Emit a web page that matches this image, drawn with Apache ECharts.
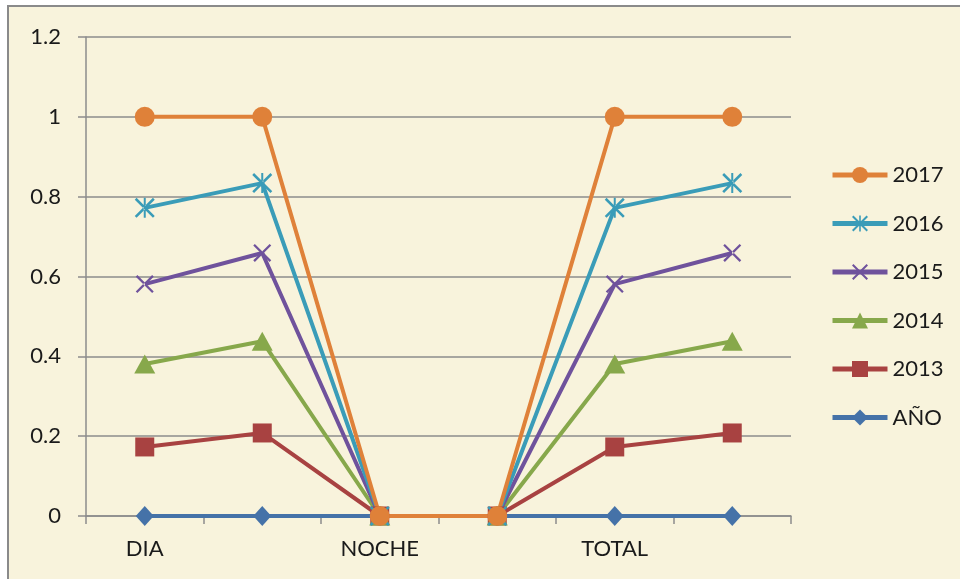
<!DOCTYPE html>
<html>
<head>
<meta charset="utf-8">
<script src="https://cdn.jsdelivr.net/npm/echarts@6/dist/echarts.min.js"></script>
<style>
html,body{margin:0;padding:0;background:#ffffff;}
#chart{width:960px;height:579px;}
</style>
</head>
<body>
<div id="chart"></div>
<script>
const categories = ['DIA', '', 'NOCHE', '', 'TOTAL', ''];
const seriesNames = ['AÑO', '2013', '2014', '2015', '2016', '2017'];
const valsANO  = [0, 0, 0, 0, 0, 0];
const vals2013 = [0.173, 0.208, 0, 0, 0.173, 0.208];
const vals2014 = [0.381, 0.438, 0, 0, 0.381, 0.438];
const vals2015 = [0.581, 0.659, 0, 0, 0.581, 0.659];
const vals2016 = [0.772, 0.834, 0, 0, 0.772, 0.834];
const vals2017 = [1, 1, 0, 0, 1, 1];
const yTicks = { min: 0, max: 1.2, interval: 0.2 };
const legendOrder = ['2017', '2016', '2015', '2014', '2013', 'AÑO'];

const colors = {
  'AÑO': '#4572A8',
  '2013': '#A84241',
  '2014': '#87A84B',
  '2015': '#6F529C',
  '2016': '#3A9CB8',
  '2017': '#DF8139'
};
const xPath = 'path://M0,1.8 L1.8,0 L20,18.2 L18.2,20 Z M20,1.8 L18.2,0 L0,18.2 L1.8,20 Z';
const starPath = 'path://M0,1.8 L1.8,0 L20,18.2 L18.2,20 Z M20,1.8 L18.2,0 L0,18.2 L1.8,20 Z M9,0 L11,0 L11,20 L9,20 Z';
const markers = {
  'AÑO': { symbol: 'diamond', size: [18, 20] },
  '2013': { symbol: 'rect', size: 19 },
  '2014': { symbol: 'triangle', size: [21, 19] },
  '2015': { symbol: xPath, size: 18 },
  '2016': { symbol: starPath, size: 20 },
  '2017': { symbol: 'circle', size: 20 }
};
const dataMap = {
  'AÑO': valsANO, '2013': vals2013, '2014': vals2014,
  '2015': vals2015, '2016': vals2016, '2017': vals2017
};

const FONT = 'Lato';
const chart = echarts.init(document.getElementById('chart'), null, { renderer: 'canvas' });
chart.setOption({
  animation: false,
  backgroundColor: '#ffffff',
  graphic: [{
    type: 'rect', z: -10, silent: true,
    shape: { x: 8, y: 6, width: 1000, height: 1000 },
    style: { fill: '#F8F3DC', stroke: '#8A8A8A', lineWidth: 2 }
  }],
  grid: { left: 86, right: 169, top: 37, bottom: 63, containLabel: false },
  xAxis: {
    type: 'category',
    data: categories,
    boundaryGap: true,
    axisLine: { show: true, lineStyle: { color: '#8C8C8C', width: 1.5 } },
    axisTick: { show: true, length: 8, alignWithLabel: false, interval: 0, lineStyle: { color: '#8C8C8C', width: 1.5 } },
    axisLabel: { interval: 0, margin: 22, fontFamily: FONT, fontSize: 22, color: '#1A1A1A' },
    splitLine: { show: false }
  },
  yAxis: {
    type: 'value',
    min: yTicks.min, max: yTicks.max, interval: yTicks.interval,
    axisLine: { show: true, lineStyle: { color: '#8C8C8C', width: 1.5 } },
    axisTick: { show: true, length: 8, lineStyle: { color: '#8C8C8C', width: 1.5 } },
    axisLabel: { margin: 25, fontFamily: FONT, fontSize: 22, color: '#1A1A1A' },
    splitLine: { show: true, lineStyle: { color: '#8C8C8C', width: 1.5 } }
  },
  legend: {
    data: legendOrder,
    orient: 'vertical',
    left: 825,
    top: 159,
    padding: 5,
    itemWidth: 55,
    itemHeight: 20,
    itemGap: 26.5,
    lineStyle: { width: 5 },
    textStyle: { fontFamily: FONT, fontSize: 22, color: '#1A1A1A', padding: [0, 0, 0, 0] }
  },
  series: seriesNames.map(function (name) {
    return {
      name: name,
      type: 'line',
      data: dataMap[name],
      symbol: markers[name].symbol,
      symbolSize: markers[name].size,
      showAllSymbol: true,
      lineStyle: { color: colors[name], width: 4 },
      itemStyle: { color: colors[name] },
      emphasis: { disabled: true }
    };
  })
});
</script>
</body>
</html>
